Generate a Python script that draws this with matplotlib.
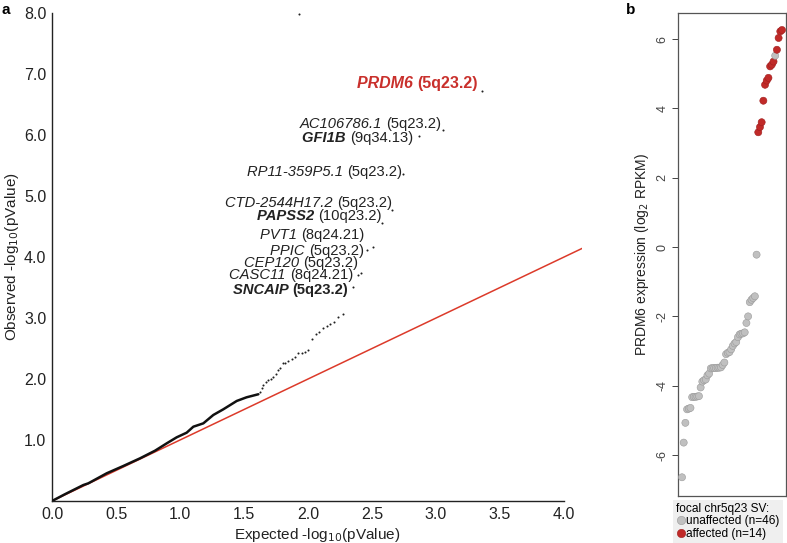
import matplotlib
matplotlib.use("Agg")
from matplotlib import pyplot as plt
from matplotlib.lines import Line2D

plt.rcParams['font.family'] = ['Liberation Sans', 'DejaVu Sans']

# --- panel a: QQ plot data (expected vs observed -log10 p) ---
# dense part of the curve
dense_exp = [0.0, 0.10, 0.245, 0.284, 0.427, 0.557, 0.688, 0.805, 0.896, 0.974,
             1.052, 1.104, 1.182, 1.260, 1.338, 1.443, 1.52, 1.612]
dense_obs = [0.0, 0.11, 0.262, 0.290, 0.454, 0.574, 0.700, 0.825, 0.945, 1.044,
             1.120, 1.218, 1.273, 1.410, 1.503, 1.640, 1.70, 1.75]
# sparse points above the dense part
sparse_exp = [1.625, 1.638, 1.651, 1.672, 1.690, 1.709, 1.729, 1.750, 1.768, 1.781,
              1.802, 1.820, 1.846, 1.873, 1.898, 1.924, 1.951, 1.977, 2.002, 2.029,
              2.063, 2.088, 2.115, 2.146, 2.172, 2.203, 2.237, 2.271, 1.93]
sparse_obs = [1.792, 1.848, 1.902, 1.956, 1.984, 2.000, 2.028, 2.082, 2.148, 2.185,
              2.257, 2.267, 2.300, 2.323, 2.366, 2.431, 2.431, 2.448, 2.475, 2.651,
              2.733, 2.775, 2.831, 2.869, 2.902, 2.939, 3.021, 3.061, 7.98]
# labelled genes
genes = ['SNCAIP', 'CASC11', 'CEP120', 'PPIC', 'PVT1', 'PAPSS2', 'CTD-2544H17.2',
         'RP11-359P5.1', 'GFI1B', 'AC106786.1', 'PRDM6']
bands = ['5q23.2', '8q24.21', '5q23.2', '5q23.2', '8q24.21', '10q23.2', '5q23.2',
         '5q23.2', '9q34.13', '5q23.2', '5q23.2']
gene_exp = [2.352, 2.393, 2.41, 2.459, 2.510, 2.576, 2.654, 2.745, 2.867, 3.052, 3.357]
gene_obs = [3.513, 3.705, 3.74, 4.115, 4.159, 4.552, 4.770, 5.356, 5.984, 6.082, 6.726]
label_x = [2.3125, 2.352, 2.39, 2.4375, 2.4375, 2.578, 2.656, 2.734, 2.820, 3.039, 3.328]
label_y = [3.46, 3.705, 3.90, 4.10, 4.36, 4.67, 4.885, 5.39, 5.95, 6.18, 6.85]
bold_genes = ['SNCAIP', 'PAPSS2', 'GFI1B', 'PRDM6']
bold_bands = ['SNCAIP', 'PRDM6']

# --- panel b: PRDM6 expression, sorted ---
expr = [-6.64, -5.64, -5.07, -4.68, -4.66, -4.64, -4.33, -4.32, -4.32, -4.31,
        -4.30, -4.05, -3.88, -3.84, -3.82, -3.70, -3.65, -3.50, -3.49, -3.49,
        -3.49, -3.48, -3.48, -3.47, -3.40, -3.33, -3.09, -3.05, -3.03, -2.95,
        -2.85, -2.78, -2.74, -2.60, -2.52, -2.50, -2.49, -2.46, -2.19, -2.00,
        -1.59, -1.52, -1.47, -1.42, -0.22,
        3.31, 3.46, 3.60, 4.22, 4.68, 4.80, 4.88, 5.21, 5.26, 5.35,
        5.52, 5.69, 6.03, 6.22, 6.26]
affected = [False] * 45 + [True] * 10 + [False] + [True] * 4

red_line = '#dc3a2a'
red_text = '#c9302c'
grey_fill = '#c0c0c0'
red_fill = '#c02a28'
ink = '#222222'

fig = plt.figure(figsize=(7.87, 5.43), dpi=100)

# panel a
ax = fig.add_axes([52 / 787, 42 / 543, 530 / 787, 488 / 543])
ax.set_xlim(0, 4.14)
ax.set_ylim(0, 8.0)
ax.plot([0, 4.14], [0, 4.14], color=red_line, lw=1.1, zorder=2)
ax.plot(dense_exp, dense_obs, color='#111111', lw=1.8, solid_capstyle='round', zorder=3)
ax.scatter(sparse_exp, sparse_obs, s=2.2, color=ink, lw=0, zorder=3)
ax.scatter(gene_exp, gene_obs, s=2.2, color=ink, lw=0, zorder=3)

# labels: band text right-aligned at the point, italic gene name just left of it
fig.canvas.draw()
for g, b, x, y in zip(genes, bands, label_x, label_y):
    col = red_text if g == 'PRDM6' else ink
    fs = 11.5 if g == 'PRDM6' else 10.6
    t = ax.text(x, y, '(' + b + ')', ha='right', va='center', fontsize=fs, color=col,
                fontweight='bold' if g in bold_bands else 'normal')
    bb = t.get_window_extent(renderer=fig.canvas.get_renderer())
    x0 = ax.transData.inverted().transform((bb.x0, 0))[0]
    ax.text(x0, y, g + ' ', ha='right', va='center', fontsize=fs, color=col,
            style='italic', fontweight='bold' if g in bold_genes else 'normal')

ax.spines['top'].set_visible(False)
ax.spines['right'].set_visible(False)
ax.spines['bottom'].set_bounds(0, 4.0)
for sp in ('left', 'bottom'):
    ax.spines[sp].set_linewidth(1.0)
    ax.spines[sp].set_color(ink)
ax.set_xticks([0, 0.5, 1.0, 1.5, 2.0, 2.5, 3.0, 3.5, 4.0])
ax.set_xticklabels(['0.0', '0.5', '1.0', '1.5', '2.0', '2.5', '3.0', '3.5', '4.0'])
ax.set_yticks([1, 2, 3, 4, 5, 6, 7, 8])
ax.set_yticklabels(['1.0', '2.0', '3.0', '4.0', '5.0', '6.0', '7.0', '8.0'])
ax.tick_params(length=0, labelsize=11.5, pad=4, colors=ink)
ax.set_xlabel(r'Expected -log$_{10}$(pValue)', fontsize=11, labelpad=3, color=ink)
ax.set_ylabel(r'Observed -log$_{10}$(pValue)', fontsize=11, color=ink)
ax.yaxis.set_label_coords(-0.058, 0.5)
fig.text(2 / 787, 1 - 10 / 543, 'a', fontsize=11, fontweight='bold', va='center')

# panel b
bx = fig.add_axes([678 / 787, 47 / 543, 108 / 787, 483 / 543])
ranks = list(range(1, len(expr) + 1))
cols = [red_fill if a else grey_fill for a in affected]
edges = ['#a01e1e' if a else '#9a9a9a' for a in affected]
bx.scatter(ranks, expr, s=26, c=cols, edgecolors=edges, linewidths=0.4, zorder=3)
bx.set_xlim(-1.36, 62.36)
bx.set_ylim(-7.18, 6.75)
bx.set_xticks([])
bx.set_yticks([6, 4, 2, 0, -2, -4, -6])
bx.set_yticklabels(['6', '4', '2', '0', '-2', '-4', '-6'], rotation=90, va='center')
bx.tick_params(axis='y', length=4, width=0.7, labelsize=9, pad=3, colors='#444444')
for sp in bx.spines.values():
    sp.set_color('#555555')
    sp.set_linewidth(0.9)
bx.set_ylabel(r'PRDM6 expression (log$_2$ RPKM)', fontsize=10, labelpad=4, color=ink)
fig.text(626 / 787, 1 - 10 / 543, 'b', fontsize=11, fontweight='bold', va='center')

handles = [Line2D([], [], marker='o', ls='', markersize=6, markerfacecolor=grey_fill,
                  markeredgecolor='#9a9a9a', markeredgewidth=0.4),
           Line2D([], [], marker='o', ls='', markersize=6, markerfacecolor=red_fill,
                  markeredgecolor='#a01e1e', markeredgewidth=0.4)]
leg = fig.legend(handles, ['unaffected (n=46)', 'affected (n=14)'],
                 title='focal chr5q23 SV:', loc='lower left',
                 bbox_to_anchor=(673 / 787, 0), fontsize=8.6, title_fontsize=8.6,
                 frameon=True, fancybox=False, borderpad=0.25, handletextpad=0.05,
                 handlelength=0.8, labelspacing=0.05, borderaxespad=0,
                 alignment='left')
leg.get_frame().set_facecolor('#ebebeb')
leg.get_frame().set_edgecolor('none')

fig.savefig('out.png', dpi=100)
